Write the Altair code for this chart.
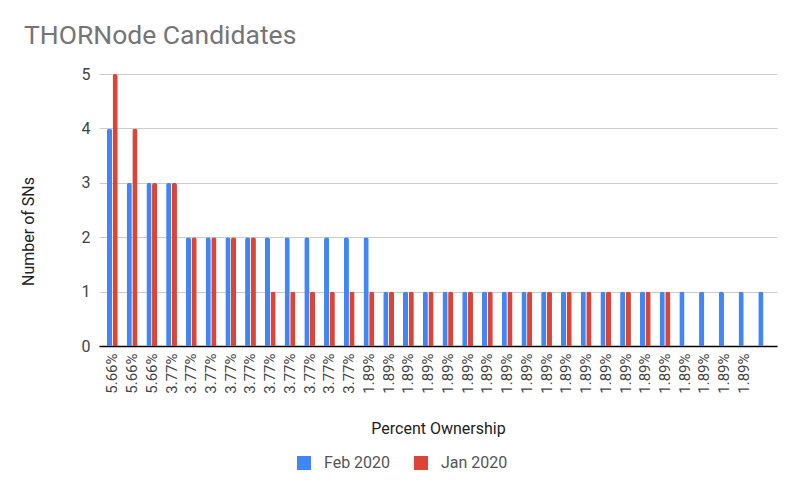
import altair as alt
import pandas as pd

labels = ["5.66%"] * 3 + ["3.77%"] * 10 + ["1.89%"] * 20 + [""]
feb_2020 = [4, 3, 3, 3, 2, 2, 2, 2, 2, 2, 2, 2, 2, 2] + [1] * 20
jan_2020 = [5, 4, 3, 3, 2, 2, 2, 2, 1, 1, 1, 1, 1, 1] + [1] * 15 + [None] * 5
series = ["Feb 2020", "Jan 2020"]
colors = ["#4285F4", "#DB4437"]

rows = []
for i, lab in enumerate(labels):
    for s, vals in zip(series, [feb_2020, jan_2020]):
        if vals[i] is not None:
            rows.append({"idx": i, "label": lab, "series": s, "value": vals[i]})
df = pd.DataFrame(rows)

label_js = "[" + ",".join("'" + l + "'" for l in labels) + "]"

FONT = "Roboto"

bars = alt.Chart(df).mark_bar(
    cornerRadiusTopLeft=2.5, cornerRadiusTopRight=2.5
).encode(
    x=alt.X(
        "idx:O",
        sort=list(range(len(labels))),
        scale=alt.Scale(paddingInner=0.45, paddingOuter=0.4),
        axis=alt.Axis(
            title="Percent Ownership",
            labelExpr=label_js + "[datum.value]",
            labelAngle=270,
            labelFontSize=15,
            labelColor="#444444",
            labelFont=FONT,
            labelPadding=7,
            ticks=False,
            domainColor="#000000",
            domainWidth=1.5,
            titleFont=FONT,
            titleFontSize=16,
            titleFontWeight="normal",
            titleColor="#222222",
            titleX=339,
            titleY=82,
            titleBaseline="middle",
            labelOverlap=False,
        ),
    ),
    xOffset=alt.XOffset("series:N", sort=series, scale=alt.Scale(paddingInner=0.08)),
    y=alt.Y(
        "value:Q",
        scale=alt.Scale(domain=[0, 5]),
        axis=alt.Axis(
            title="Number of SNs",
            values=[0, 1, 2, 3, 4, 5],
            labelFontSize=16,
            labelColor="#444444",
            labelFont=FONT,
            labelPadding=9,
            ticks=False,
            domain=False,
            gridColor="#cccccc",
            gridWidth=1,
            titleFont=FONT,
            titleFontSize=16,
            titleFontWeight="normal",
            titleColor="#222222",
            titleX=-71,
            titleY=157,
            titleBaseline="middle",
            titleAlign="center",
            titleAngle=270,
            titleLimit=300,
        ),
    ),
    color=alt.Color(
        "series:N",
        sort=series,
        scale=alt.Scale(domain=series, range=colors),
        legend=alt.Legend(
            title=None,
            orient="none",
            direction="horizontal",
            legendX=197,
            legendY=381,
            symbolType="square",
            symbolSize=196,
            symbolStrokeWidth=0,
            labelFont=FONT,
            labelFontSize=16,
            labelColor="#555555",
            labelOffset=12,
            columnPadding=22,
        ),
    ),
)

chart = bars.properties(
    width=678,
    height=272,
    title=alt.TitleParams(
        "THORNode Candidates",
        anchor="start",
        frame="group",
        font=FONT,
        fontSize=26.5,
        fontWeight="normal",
        color="#757575",
        dx=-75,
        dy=-13,
    ),
    autosize=alt.AutoSizeParams(type="none"),
    padding={"left": 91, "top": 66, "right": 15, "bottom": 142},
).configure_view(stroke=None)

chart.save("out.html", embed_options={"renderer": "svg", "actions": False})
